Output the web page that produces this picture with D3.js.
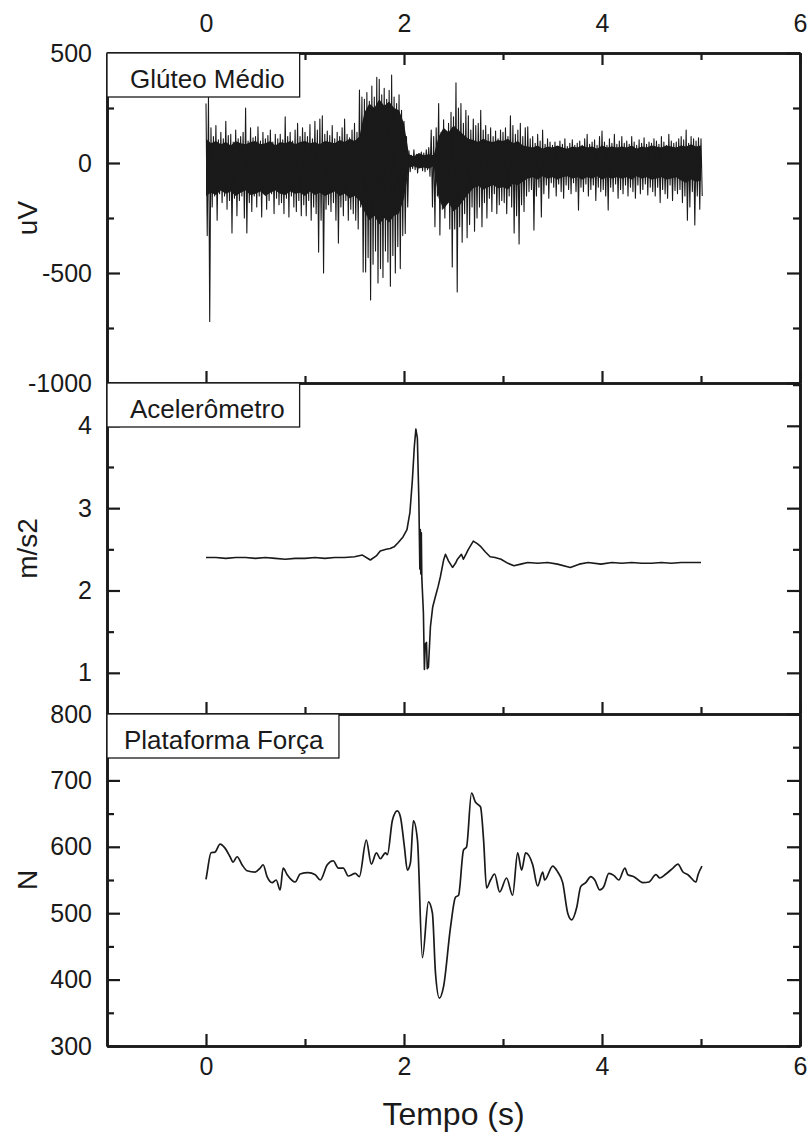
<!DOCTYPE html>
<html>
<head>
<meta charset="utf-8">
<script src="https://cdn.jsdelivr.net/npm/d3@7"></script>
<style>
  body { margin: 0; background: #fff; }
  svg text { font-family: "Liberation Sans", Arial, sans-serif; fill: #1a1a1a; }
</style>
</head>
<body>
<svg id="chart"></svg>
<script>
// shared time axis
let timeTicks = [0, 2, 4, 6];
let timeMinor = [1, 3, 5];

// EMG (Glúteo Médio): peak-to-peak envelope per 0.025 s sample
let emgStep = 0.025;
let emgHi = [
  270, 300, 160, 120, 170, 105, 140, 110, 190, 125,
  130, 95, 150, 110, 120, 140, 250, 100, 160, 115,
  120, 165, 100, 140, 110, 125, 150, 95, 130, 110,
  130, 105, 210, 120, 140, 100, 150, 180, 120, 160,
  140, 120, 175, 110, 190, 150, 200, 215, 130, 145,
  125, 170, 110, 140, 120, 160, 200, 130, 115, 150,
  180, 140, 332, 300, 290, 320, 280, 350, 300, 390,
  380, 310, 340, 290, 330, 400, 300, 270, 310, 240,
  190, 120, 55, 35, 60, 40, 30, 50, 45, 60,
  70, 150, 120, 160, 270, 140, 196, 110, 180, 230,
  210, 364, 250, 270, 180, 240, 215, 150, 200, 170,
  180, 240, 150, 170, 130, 160, 120, 145, 110, 150,
  140, 160, 120, 214, 170, 130, 150, 180, 120, 160,
  164, 110, 120, 90, 130, 100, 150, 85, 110, 95,
  80, 95, 70, 100, 85, 110, 75, 90, 105, 80,
  90, 100, 80, 110, 130, 85, 95, 105, 80, 120,
  145, 95, 80, 110, 90, 130, 85, 100, 120, 90,
  100, 85, 120, 95, 80, 105, 90, 115, 85, 95,
  90, 110, 100, 85, 120, 95, 80, 130, 100, 90,
  95, 110, 120, 105, 150, 90, 120, 110, 100, 115,
  110
];
let emgLo = [
  -330, -720, -200, -150, -260, -140, -180, -150, -210, -170,
  -318, -160, -240, -170, -150, -250, -318, -180, -220, -150,
  -200, -150, -245, -130, -210, -170, -140, -230, -160, -190,
  -180, -230, -160, -245, -150, -200, -220, -170, -240, -190,
  -240, -170, -260, -200, -230, -405, -260, -500, -210, -190,
  -220, -180, -260, -364, -200, -240, -170, -260, -210, -230,
  -260, -300, -200, -495, -495, -430, -623, -460, -400, -545,
  -480, -520, -400, -450, -560, -420, -500, -380, -480, -330,
  -320, -200, -40, -25, -30, -45, -20, -35, -40, -30,
  -60, -200, -290, -150, -327, -210, -250, -180, -300, -473,
  -300, -586, -290, -360, -230, -340, -280, -200, -310, -250,
  -200, -290, -180, -250, -160, -220, -140, -230, -190, -170,
  -180, -230, -150, -200, -318, -240, -368, -190, -220, -150,
  -130, -120, -305, -150, -110, -245, -140, -100, -160, -90,
  -110, -150, -95, -130, -160, -100, -120, -140, -90, -130,
  -214, -110, -130, -95, -150, -120, -100, -170, -110, -130,
  -120, -150, -214, -110, -130, -95, -160, -120, -140, -100,
  -150, -110, -130, -160, -100, -140, -120, -95, -145, -110,
  -130, -150, -110, -180, -120, -140, -160, -100, -170, -125,
  -140, -120, -180, -150, -260, -200, -130, -282, -150, -210,
  -150
];
// dense black core of the EMG band, every 0.05 s
let emgCoreStep = 0.05;
let emgCoreHi = [
  110, 90, 100, 85, 95, 80, 100, 90, 85, 95, 100, 85, 90, 100, 80, 95, 90, 100, 85, 95,
  100, 90, 95, 85, 100, 95, 90, 105, 95, 110, 100, 120,
  230, 270, 250, 290, 260, 280, 250, 240, 180,
  40, 30, 45, 35, 40, 35,
  120, 160, 140, 170, 150, 130, 110,
  105, 95, 110, 100, 95, 105, 100, 110, 90, 100, 80,
  75, 70, 80, 65, 75, 70, 80, 70, 65, 75, 70, 80, 70, 75, 65, 80, 70, 75, 70, 75,
  70, 80, 65, 75, 70, 80, 75, 70, 80, 75, 70,
  80, 75, 85, 75, 80
];
let emgCoreLo = [
  -150, -135, -145, -125, -140, -130, -150, -135, -125, -145, -140, -130, -150, -135, -125, -140, -145, -130, -140, -135,
  -150, -130, -145, -135, -150, -140, -130, -150, -140, -160, -150, -170,
  -220, -260, -240, -280, -250, -270, -240, -230, -160,
  -20, -15, -25, -20, -25, -15,
  -160, -210, -180, -220, -200, -170, -140,
  -115, -105, -120, -110, -100, -115, -110, -120, -95, -100, -85,
  -70, -65, -75, -60, -70, -65, -75, -65, -60, -70, -65, -75, -65, -70, -60, -75, -65, -70, -65, -70,
  -65, -75, -60, -70, -65, -75, -70, -65, -75, -70, -65,
  -80, -90, -75, -85, -80
];
let emgTicks = [-1000, -500, 0, 500];
let emgMinor = [-750, -250, 250];

// Acelerômetro
let accT = [0, 0.1, 0.2, 0.3, 0.4, 0.5, 0.6, 0.7, 0.8, 0.9, 1.0, 1.1, 1.2, 1.3, 1.4, 1.5,
  1.58, 1.66, 1.72, 1.76, 1.82, 1.86, 1.9, 1.94, 1.99, 2.03, 2.06, 2.085, 2.105, 2.12,
  2.135, 2.15, 2.16, 2.165, 2.17, 2.175, 2.18, 2.196, 2.206, 2.215, 2.227, 2.235, 2.247,
  2.267, 2.29, 2.318, 2.345, 2.368, 2.4, 2.419, 2.449, 2.49, 2.52, 2.54, 2.58, 2.6, 2.63,
  2.65, 2.7, 2.74, 2.77, 2.82, 2.87, 2.92, 2.98, 3.05, 3.11, 3.18, 3.25, 3.35, 3.45, 3.55,
  3.68, 3.77, 3.86, 3.99, 4.1, 4.2, 4.3, 4.4, 4.5, 4.6, 4.7, 4.8, 4.9, 5.0];
let accV = [2.40, 2.40, 2.39, 2.40, 2.40, 2.39, 2.40, 2.39, 2.38, 2.39, 2.39, 2.40, 2.39, 2.40, 2.40, 2.41,
  2.43, 2.37, 2.42, 2.48, 2.50, 2.51, 2.53, 2.58, 2.65, 2.74, 2.95, 3.35, 3.76, 3.96,
  3.85, 3.10, 2.26, 2.74, 2.20, 2.70, 2.15, 1.73, 1.04, 1.35, 1.37, 1.05, 1.07,
  1.56, 1.80, 1.93, 2.05, 2.17, 2.37, 2.44, 2.36, 2.28, 2.33, 2.38, 2.44, 2.38, 2.45,
  2.50, 2.60, 2.57, 2.54, 2.47, 2.41, 2.40, 2.38, 2.33, 2.30, 2.32, 2.34, 2.33, 2.34, 2.32,
  2.28, 2.32, 2.34, 2.32, 2.34, 2.33, 2.34, 2.33, 2.33, 2.34, 2.33, 2.34, 2.34, 2.34];
let accTicks = [1, 2, 3, 4];
let accMinor = [0.5, 1.5, 2.5, 3.5, 4.5];

// Plataforma Força
let forceT = [0, 0.01, 0.051, 0.091, 0.142, 0.192, 0.243, 0.273, 0.314, 0.364, 0.415, 0.496,
  0.547, 0.577, 0.617, 0.668, 0.709, 0.749, 0.779, 0.82, 0.901, 0.951, 1.032, 1.103, 1.154,
  1.225, 1.285, 1.336, 1.387, 1.437, 1.508, 1.549, 1.619, 1.67, 1.721, 1.761, 1.812, 1.832,
  1.883, 1.933, 1.964, 2.004, 2.034, 2.065, 2.095, 2.136, 2.186, 2.247, 2.287, 2.318, 2.358,
  2.399, 2.47, 2.52, 2.551, 2.601, 2.632, 2.682, 2.723, 2.753, 2.773, 2.804, 2.834, 2.874,
  2.915, 2.966, 3.036, 3.097, 3.148, 3.188, 3.229, 3.3, 3.35, 3.401, 3.421, 3.502, 3.553,
  3.603, 3.654, 3.694, 3.745, 3.785, 3.836, 3.887, 3.927, 3.978, 4.018, 4.069, 4.119, 4.17,
  4.231, 4.261, 4.322, 4.413, 4.474, 4.545, 4.585, 4.646, 4.717, 4.767, 4.818, 4.868, 4.949,
  4.97, 5.01];
let forceV = [551, 560, 591, 592, 604, 598, 585, 577, 585, 573, 564, 562,
  568, 573, 555, 546, 550, 535, 568, 558, 547, 559, 561, 558, 550,
  573, 579, 568, 568, 556, 560, 555, 610, 574, 591, 582, 591, 588,
  640, 654, 645, 600, 565, 576, 639, 610, 433, 517, 500, 410, 372,
  389, 479, 524, 527, 595, 600, 681, 667, 663, 660, 610, 538, 550,
  559, 532, 553, 527, 591, 565, 591, 573, 541, 562, 550, 571, 562,
  546, 500, 490, 509, 540, 546, 555, 550, 535, 540, 560, 557, 550,
  568, 558, 555, 546, 547, 558, 553, 559, 568, 574, 562, 558, 547,
  558, 571];
let forceTicks = [300, 400, 500, 600, 700, 800];
let forceMinor = [350, 450, 550, 650, 750];

let width = 811, height = 1139;
let left = 107, right = 800;
let ink = '#1a1a1a';
let fmt = d => String(d);

let svg = d3.select('#chart')
  .attr('width', width)
  .attr('height', height);

let x = d3.scaleLinear().domain([-1, 6]).range([left, right]);

let emgPts = [];
emgHi.forEach((h, i) => {
  emgPts.push([i * emgStep, h]);
  emgPts.push([i * emgStep + emgStep / 2, emgLo[i]]);
});
let emgCore = emgCoreHi.map((h, i) => [i * emgCoreStep, h, emgCoreLo[i]]);

let panels = [
  {top: 53, bottom: 383, domain: [-1000, 500], ticks: emgTicks, minor: emgMinor,
   title: 'uV', label: 'Glúteo Médio', labelX: 130, pts: emgPts, lw: 1.1, curve: d3.curveLinear},
  {top: 383, bottom: 714, domain: [0.5, 4.52], ticks: accTicks, minor: accMinor,
   title: 'm/s2', label: 'Acelerômetro', labelX: 130, pts: accT.map((t, i) => [t, accV[i]]), lw: 1.6,
   curve: d3.curveLinear},
  {top: 714, bottom: 1046, domain: [300, 800], ticks: forceTicks, minor: forceMinor,
   title: 'N', label: 'Plataforma Força', labelX: 124, pts: forceT.map((t, i) => [t, forceV[i]]), lw: 1.7,
   curve: d3.curveMonotoneX}
];

let styleAxis = (g, fs) => {
  g.attr('font-family', '"Liberation Sans", Arial, sans-serif')
    .attr('font-size', fs);
  g.select('.domain').attr('stroke', ink).attr('stroke-width', 2.6);
  g.selectAll('.tick line').attr('stroke', ink).attr('stroke-width', 2.2);
  g.selectAll('.tick text').attr('fill', ink);
};

panels.forEach((p, k) => {
  let y = d3.scaleLinear().domain(p.domain).range([p.bottom, p.top]);
  let last = k === panels.length - 1;

  // data
  if (k === 0) {
    svg.append('path')
      .datum(emgCore)
      .attr('fill', ink)
      .attr('d', d3.area().x(d => x(d[0])).y0(d => y(d[2])).y1(d => y(d[1])));
  }
  svg.append('path')
    .datum(p.pts)
    .attr('fill', 'none')
    .attr('stroke', ink)
    .attr('stroke-width', p.lw)
    .attr('stroke-linejoin', 'round')
    .attr('d', d3.line().x(d => x(d[0])).y(d => y(d[1])).curve(p.curve));

  // minor ticks first
  svg.append('g')
    .attr('transform', 'translate(' + left + ',0)')
    .call(d3.axisLeft(y).tickValues(p.minor).tickSize(-7).tickSizeOuter(0).tickFormat(''))
    .call(styleAxis, 25);
  svg.append('g')
    .attr('transform', 'translate(' + right + ',0)')
    .call(d3.axisRight(y).tickValues(p.minor).tickSize(-7).tickSizeOuter(0).tickFormat(''))
    .call(styleAxis, 25);
  svg.append('g')
    .attr('transform', 'translate(0,' + p.bottom + ')')
    .call(d3.axisBottom(x).tickValues(timeMinor).tickSize(-7).tickSizeOuter(0).tickFormat(''))
    .call(styleAxis, 25);

  // major ticks
  svg.append('g')
    .attr('transform', 'translate(' + left + ',0)')
    .call(d3.axisLeft(y).tickValues(p.ticks).tickSize(-13).tickSizeOuter(0).tickPadding(15).tickFormat(fmt))
    .call(styleAxis, 25);
  svg.append('g')
    .attr('transform', 'translate(' + right + ',0)')
    .call(d3.axisRight(y).tickValues(p.ticks).tickSize(-13).tickSizeOuter(0).tickFormat(''))
    .call(styleAxis, 25);
  svg.append('g')
    .attr('transform', 'translate(0,' + p.bottom + ')')
    .call(d3.axisBottom(x).tickValues(timeTicks).tickSize(-12).tickSizeOuter(0)
      .tickPadding(11).tickFormat(last ? fmt : ''))
    .call(styleAxis, 25);

  if (k === 0) {
    svg.append('g')
      .attr('transform', 'translate(0,' + p.top + ')')
      .call(d3.axisTop(x).tickValues(timeMinor).tickSize(-7).tickSizeOuter(0).tickFormat(''))
      .call(styleAxis, 25);
    svg.append('g')
      .attr('transform', 'translate(0,' + p.top + ')')
      .call(d3.axisTop(x).tickValues(timeTicks).tickSize(-12).tickSizeOuter(0).tickPadding(21).tickFormat(fmt))
      .call(styleAxis, 25);
  }

  // panel label box
  let box = svg.append('rect');
  let lbl = svg.append('text')
    .attr('x', p.labelX)
    .attr('y', p.top + 35)
    .attr('font-size', 26)
    .text(p.label);
  let bb = lbl.node().getBBox();
  box.attr('x', left)
    .attr('y', p.top)
    .attr('width', bb.x + bb.width + 15 - left)
    .attr('height', 44)
    .attr('fill', '#fff')
    .attr('stroke', ink)
    .attr('stroke-width', 1.3);

  // y title
  svg.append('text')
    .attr('transform', 'rotate(-90)')
    .attr('x', -(p.top + p.bottom) / 2)
    .attr('y', 37)
    .attr('text-anchor', 'middle')
    .attr('font-size', 28)
    .text(p.title);
});

svg.append('text')
  .attr('x', (left + right) / 2)
  .attr('y', 1125)
  .attr('text-anchor', 'middle')
  .attr('font-size', 32)
  .text('Tempo (s)');
</script>
</body>
</html>
